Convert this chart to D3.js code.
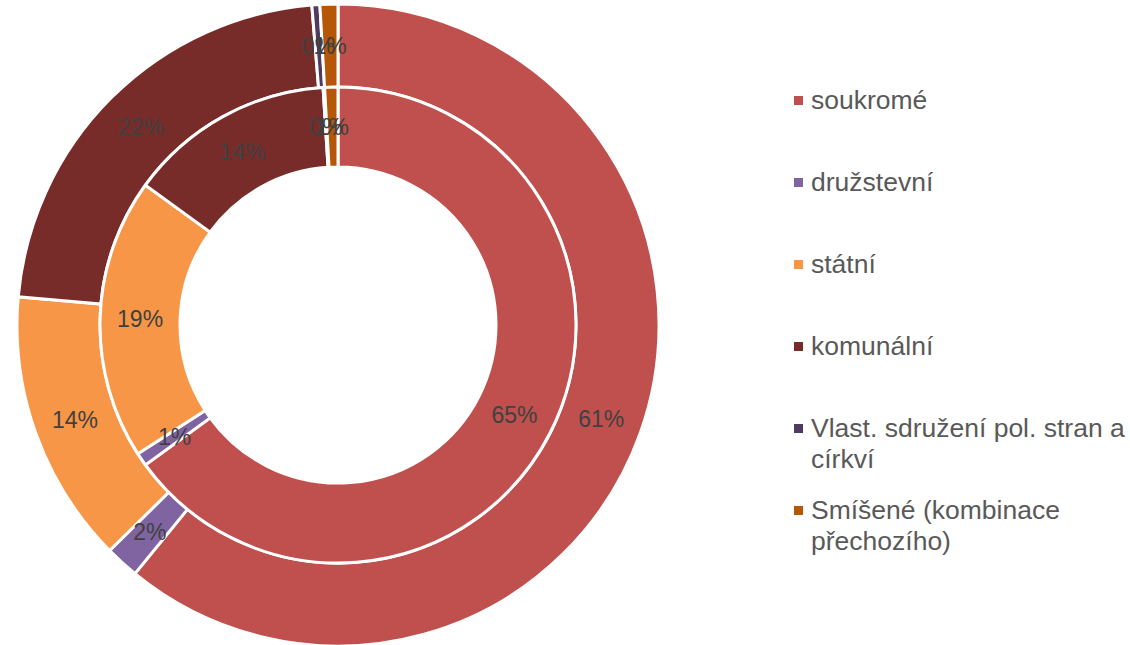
<!DOCTYPE html>
<html>
<head>
<meta charset="utf-8">
<script src="https://cdn.jsdelivr.net/npm/d3@7"></script>
<style>
  body { margin: 0; background: #fff; }
  text { font-family: "Liberation Sans", Arial, sans-serif; }
</style>
</head>
<body>
<div id="chart"></div>
<script>
// data
var categories = ['soukromé', 'družstevní', 'státní', 'komunální', 'Vlast. sdružení pol. stran a církví', 'Smíšené (kombinace přechozího)']
var outerValues = [60.9, 1.7, 13.8, 22.3, 0.4, 0.9]
var innerValues = [65.0, 0.9, 19.1, 14.0, 0.1, 0.9]
var colors = ['#C0504D', '#8064A2', '#F79646', '#772C2A', '#4F3B62', '#B65708']

var width = 1130
var height = 645
var cx = 338
var cy = 325

var svg = d3.select('#chart').append('svg')
  .attr('width', width)
  .attr('height', height)

var g = svg.append('g')
  .attr('transform', `translate(${cx}, ${cy})`)

var pie = d3.pie().sort(null).value(d => d)

var rings = [
  { values: outerValues, inner: 238, outer: 321 },
  { values: innerValues, inner: 158, outer: 238 }
]

rings.forEach(ring => {
  var arc = d3.arc().innerRadius(ring.inner).outerRadius(ring.outer)
  var total = d3.sum(ring.values)
  var slices = pie(ring.values)

  g.append('g').selectAll('path')
    .data(slices)
    .enter()
    .append('path')
    .attr('d', arc)
    .attr('fill', (d, i) => colors[i])
    .attr('stroke', '#fff')
    .attr('stroke-width', 3)

  // labels: small slices overlap as in the original
  g.append('g').selectAll('text')
    .data(slices)
    .enter()
    .append('text')
    .attr('transform', d => `translate(${arc.centroid(d)})`)
    .attr('text-anchor', 'middle')
    .attr('dy', '0.35em')
    .attr('font-size', '23px')
    .attr('fill', '#404040')
    .text(d => Math.round(d.data / total * 100) + '%')
})

// legend
var legendRows = [
  ['soukromé'],
  ['družstevní'],
  ['státní'],
  ['komunální'],
  ['Vlast. sdružení pol. stran a', 'církví'],
  ['Smíšené (kombinace', 'přechozího)']
]
var legendY = d3.scalePoint()
  .domain(d3.range(categories.length))
  .range([100, 510])

var legend = svg.append('g')
  .selectAll('g')
  .data(legendRows)
  .enter()
  .append('g')
  .attr('transform', (d, i) => `translate(794, ${legendY(i)})`)

legend.append('rect')
  .attr('x', 0)
  .attr('y', -4)
  .attr('width', 9)
  .attr('height', 9)
  .attr('fill', (d, i) => colors[i])

legend.append('text')
  .attr('font-size', '26.5px')
  .attr('fill', '#595959')
  .selectAll('tspan')
  .data(d => d)
  .enter()
  .append('tspan')
  .attr('x', 17)
  .attr('y', (d, i) => i * 31)
  .attr('dy', '0.35em')
  .text(d => d)
</script>
</body>
</html>
